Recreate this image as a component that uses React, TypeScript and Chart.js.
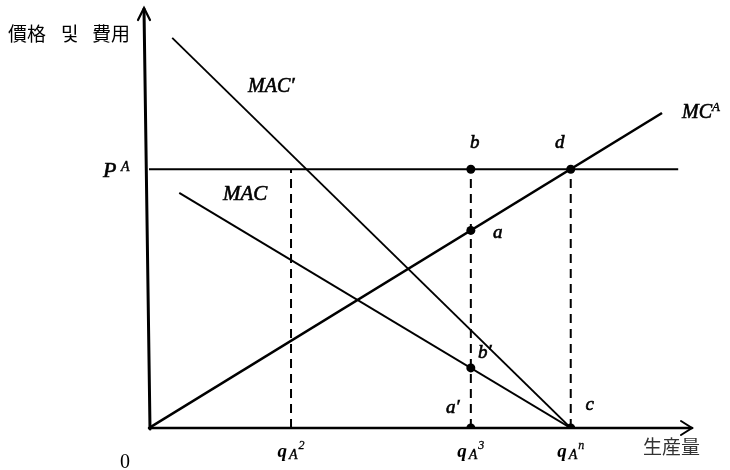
import React, { useEffect, useRef } from "react";
import { Chart, registerables } from "chart.js";

Chart.register(...registerables);

// ---- data (diagram units: quantity 0..100, price/cost 0..100) ----
const priceLevel = 61.6; // P^A
const quantityMarks = [26.3, 59.6, 78.1]; // q_A^2, q_A^3, q_A^n
const quantitySup = ["2", "3", "n"];
const mcX = [0, 95];
const mcY = [0, 75];
const macPrimeX = [4.3, 78.1];
const macPrimeY = [92.9, 0];
const macX = [5.6, 78.1];
const macY = [56, 0];
const priceLineX = [0, 98];
const pointNames = ["b", "d", "a", "b′", "a′", "c"];
const pointX = [59.6, 78.1, 59.6, 59.6, 59.6, 78.1];
const pointY = [61.6, 61.6, 47.05, 14.3, 0, 0];
const yTitleParts = ["價格", "및", "費用"];
const xTitle = "生産量";

// label offsets (pixels) for the point names
const pointLabelOffsets: [number, number][] = [
  [4, -26],
  [-11, -26],
  [27, 3],
  [14, -15],
  [-18, -20],
  [19, -23],
];

const SERIF_I = (size: number, bold = false) =>
  `italic ${bold ? "bold " : ""}${size}px "Liberation Serif", "DejaVu Serif", serif`;
const CJK = (size: number) => `${size}px "Noto Sans CJK KR", "Noto Sans CJK SC", sans-serif`;

function heavyText(ctx: CanvasRenderingContext2D, t: string, x: number, y: number, w = 0.6) {
  ctx.fillText(t, x, y);
  if (w > 0) {
    ctx.lineWidth = w;
    ctx.strokeText(t, x, y);
  }
}

const diagramPlugin = {
  id: "diagram",
  beforeDatasetsDraw(chart: any) {
    const { ctx, chartArea } = chart;
    const x0 = chart.scales.x.getPixelForValue(0);
    const y0 = chart.scales.y.getPixelForValue(0);
    ctx.save();
    ctx.strokeStyle = "#000";
    ctx.lineCap = "round";
    // y axis (slightly tilted like the scan)
    ctx.lineWidth = 3;
    ctx.beginPath();
    ctx.moveTo(x0 + 1, y0 + 1);
    ctx.lineTo(x0 - 5, chartArea.top + 1);
    ctx.stroke();
    ctx.lineWidth = 2.2;
    ctx.beginPath();
    ctx.moveTo(x0 - 11, chartArea.top + 12);
    ctx.lineTo(x0 - 5, chartArea.top);
    ctx.lineTo(x0 + 1, chartArea.top + 12);
    ctx.stroke();
    // x axis
    ctx.lineWidth = 2.5;
    ctx.beginPath();
    ctx.moveTo(x0, y0);
    ctx.lineTo(chartArea.right + 3, y0);
    ctx.stroke();
    ctx.lineWidth = 2;
    ctx.beginPath();
    ctx.moveTo(chartArea.right - 8, y0 - 7);
    ctx.lineTo(chartArea.right + 3, y0);
    ctx.lineTo(chartArea.right - 8, y0 + 7);
    ctx.stroke();
    ctx.restore();
  },
  afterDatasetsDraw(chart: any) {
    const { ctx } = chart;
    const xs = chart.scales.x;
    const ys = chart.scales.y;
    const x0 = xs.getPixelForValue(0);
    ctx.save();
    ctx.fillStyle = "#000";
    ctx.strokeStyle = "#000";
    ctx.textBaseline = "alphabetic";

    // axis titles
    ctx.font = CJK(19);
    ctx.textAlign = "left";
    ctx.fillText(yTitleParts[0], 8, 41);
    ctx.fillText(yTitleParts[1], 61, 41);
    ctx.fillText(yTitleParts[2], 92, 41);
    ctx.fillStyle = "#333";
    ctx.fillText(xTitle, 643, 454);
    ctx.fillStyle = "#000";

    // origin
    ctx.font = `20px "Liberation Serif", serif`;
    ctx.textAlign = "center";
    ctx.fillText("0", x0 - 24, 468);

    // P^A
    const py = ys.getPixelForValue(priceLevel);
    ctx.textAlign = "left";
    ctx.font = SERIF_I(22);
    heavyText(ctx, "P", x0 - 46, py + 8);
    ctx.font = SERIF_I(14);
    heavyText(ctx, "A", x0 - 28, py + 2, 0.4);

    // curve names
    ctx.font = SERIF_I(20);
    heavyText(ctx, "MAC′", 248, 92);
    ctx.font = SERIF_I(21);
    heavyText(ctx, "MAC", 223, 200);
    ctx.font = SERIF_I(20);
    heavyText(ctx, "MC", 682, 118);
    const mcw = ctx.measureText("MC").width;
    ctx.font = SERIF_I(13);
    heavyText(ctx, "A", 682 + mcw, 111, 0.4);

    // quantity labels
    quantityMarks.forEach((q, i) => {
      const cx = xs.getPixelForValue(q);
      ctx.font = SERIF_I(19, true);
      const w1 = ctx.measureText("q").width;
      ctx.font = SERIF_I(14);
      const w2 = ctx.measureText("A").width;
      ctx.font = SERIF_I(12);
      const w3 = ctx.measureText(quantitySup[i]).width;
      const total = w1 + 2 + w2 + 1 + w3;
      let x = cx - total / 2;
      ctx.textAlign = "left";
      ctx.font = SERIF_I(19, true);
      ctx.fillText("q", x, 457);
      x += w1 + 2;
      ctx.font = SERIF_I(14);
      heavyText(ctx, "A", x, 459, 0.4);
      x += w2 + 1;
      ctx.font = SERIF_I(12);
      heavyText(ctx, quantitySup[i], x, 449, 0.3);
    });

    // point names
    ctx.textAlign = "center";
    ctx.textBaseline = "middle";
    ctx.font = SERIF_I(19);
    pointNames.forEach((name, i) => {
      const px = xs.getPixelForValue(pointX[i]);
      const ppy = ys.getPixelForValue(pointY[i]);
      const [dx, dy] = pointLabelOffsets[i];
      heavyText(ctx, name, px + dx, ppy + dy);
    });
    ctx.restore();
  },
};

const seg = (xsArr: number[], ysArr: number[]) =>
  xsArr.map((x, i) => ({ x, y: ysArr[i] }));

export default function App() {
  const ref = useRef<HTMLCanvasElement | null>(null);
  useEffect(() => {
    if (!ref.current) return;
    const lineBase = {
      showLine: true,
      pointRadius: 0,
      borderColor: "#000",
      backgroundColor: "#000",
    };
    const dashed = quantityMarks.map((q) => ({
      ...lineBase,
      label: "dash",
      data: [
        { x: q, y: 0 },
        { x: q, y: priceLevel },
      ],
      borderWidth: 2,
      borderDash: [9, 6],
    }));
    const chart = new Chart(ref.current, {
      type: "scatter",
      data: {
        datasets: [
          { ...lineBase, label: "MC^A", data: seg(mcX, mcY), borderWidth: 2.6 },
          { ...lineBase, label: "MAC′", data: seg(macPrimeX, macPrimeY), borderWidth: 1.8 },
          { ...lineBase, label: "MAC", data: seg(macX, macY), borderWidth: 2 },
          {
            ...lineBase,
            label: "P^A",
            data: seg(priceLineX, [priceLevel, priceLevel]),
            borderWidth: 2,
          },
          ...dashed,
          {
            label: "points",
            data: seg(pointX, pointY),
            showLine: false,
            pointRadius: 4.5,
            pointBackgroundColor: "#000",
            pointBorderColor: "#000",
            pointBorderWidth: 0,
          },
          {
            label: "origin",
            data: [{ x: 0, y: 0 }],
            showLine: false,
            pointRadius: 3,
            pointBackgroundColor: "#000",
            pointBorderWidth: 0,
          },
        ],
      },
      options: {
        responsive: false,
        maintainAspectRatio: false,
        animation: false,
        layout: { padding: { left: 149, right: 41, top: 8, bottom: 42 } },
        scales: {
          x: { type: "linear", min: 0, max: 100, display: false },
          y: { type: "linear", min: 0, max: 100, display: false },
        },
        plugins: {
          legend: { display: false },
          tooltip: { enabled: false },
        },
        elements: { line: { tension: 0 } },
      },
      plugins: [diagramPlugin],
    } as any);
    return () => chart.destroy();
  }, []);
  return (
    <div style={{ position: "fixed", left: 0, top: 0, width: 730, height: 470, background: "#fff" }}>
      <canvas ref={ref} width={730} height={470} style={{ width: 730, height: 470 }} />
    </div>
  );
}
